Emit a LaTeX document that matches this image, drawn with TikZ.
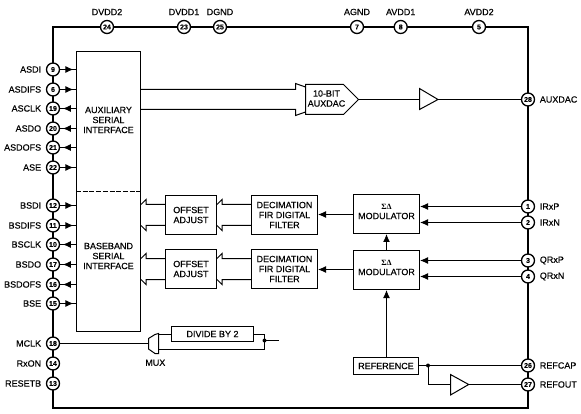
\documentclass[tikz,border=0pt]{standalone}
\usepackage{fontspec}
\setmainfont[FakeBold=0.25]{Liberation Sans}
\newfontfamily\greekfont{Liberation Serif}
\usetikzlibrary{arrows.meta,decorations.markings}
\tikzset{
  txt/.style={font=\fontsize{9}{10}\selectfont},
  pinbox/.style={circle,draw,fill=white,line width=1.3pt,inner sep=0pt,minimum size=13pt,
    font=\fontsize{7}{7}\selectfont\bfseries},
  every label/.style={txt,inner sep=0pt},
  label distance=4.5pt,
  blockbox/.style={draw,line width=1pt,inner sep=0pt,align=center,txt},
  wire/.style={line width=1pt},
  solid tip/.style={-{Latex[length=8pt,width=7pt]}},
  pinarrow/.style={wire,postaction={decorate},decoration={markings,
    mark=at position 0.83 with {\arrow{Latex[length=8pt,width=7pt]}}}},
}
\newcommand{\sigmadelta}{{\greekfont\bfseries\fontsize{8}{8}\selectfont ΣΔ}}
\begin{document}
\begin{tikzpicture}[x=1pt,y=-1pt]
  \useasboundingbox (0,0) rectangle (581,414);
  % outer package frame
  \draw[line width=2pt] (53,27) rectangle (528,408);
  % pins along the top
  \node[pinbox,label=above:DVDD2] (dvddb) at (107,27) {24};
  \node[pinbox,label=above:DVDD1] (dvdda) at (184,27) {23};
  \node[pinbox,label=above:DGND] (dgnd) at (220,27) {25};
  \node[pinbox,label=above:AGND] (agnd) at (357,27) {7};
  \node[pinbox,label=above:AVDD1] (avdda) at (400.7,27) {8};
  \node[pinbox,label=above:AVDD2] (avddb) at (479,27) {5};
  % pins on the left
  \node[pinbox,label=left:ASDI] (asdi) at (53,69.5) {9};
  \node[pinbox,label=left:ASDIFS] (asdifs) at (53,89.5) {6};
  \node[pinbox,label=left:ASCLK] (asclk) at (53,108.5) {19};
  \node[pinbox,label=left:ASDO] (asdo) at (53,128.5) {20};
  \node[pinbox,label=left:ASDOFS] (asdofs) at (53,147.5) {21};
  \node[pinbox,label=left:ASE] (ase) at (53,167.5) {22};
  \node[pinbox,label=left:BSDI] (bsdi) at (53,205.5) {12};
  \node[pinbox,label=left:BSDIFS] (bsdifs) at (53,225.5) {11};
  \node[pinbox,label=left:BSCLK] (bsclk) at (53,244.5) {10};
  \node[pinbox,label=left:BSDO] (bsdo) at (53,264.5) {17};
  \node[pinbox,label=left:BSDOFS] (bsdofs) at (53,284.5) {16};
  \node[pinbox,label=left:BSE] (bse) at (53,303.5) {15};
  \node[pinbox,label=left:MCLK] (mclk) at (53,343.5) {18};
  \node[pinbox,label=left:RxON] (rxon) at (53,363.5) {14};
  \node[pinbox,label=left:RESETB] (resetb) at (53,383.5) {13};
  % pins on the right
  \node[pinbox,label=right:AUXDAC] (auxdac) at (528,99.5) {28};
  \node[pinbox,label=right:IRxP] (irxp) at (528,206.5) {1};
  \node[pinbox,label=right:IRxN] (irxn) at (528,222.5) {2};
  \node[pinbox,label=right:QRxP] (qrxp) at (528,260.5) {3};
  \node[pinbox,label=right:QRxN] (qrxn) at (528,276.5) {4};
  \node[pinbox,label=right:REFCAP] (refcap) at (528,365.5) {26};
  \node[pinbox,label=right:REFOUT] (refout) at (528,384.5) {27};
  % serial interface block with the dashed split
  \node[blockbox,minimum width=64pt,minimum height=280pt] (serial) at (108.5,191.5) {};
  \draw[wire,dash pattern=on 5pt off 1.7pt] (serial.west) -- (serial.east);
  \node[txt,align=center] (auxtext) at (108.5,120) {AUXILIARY\\SERIAL\\INTERFACE};
  \node[txt,align=center] (basetext) at (108.5,256) {BASEBAND\\SERIAL\\INTERFACE};
  % processing blocks
  \node[blockbox,minimum width=51pt,minimum height=39pt] (offseta) at (191,215) {OFFSET\\ADJUST};
  \node[blockbox,minimum width=51pt,minimum height=39pt] (offsetb) at (191,269) {OFFSET\\ADJUST};
  \node[blockbox,minimum width=66pt,minimum height=39pt] (decima) at (284.5,215) {DECIMATION\\FIR DIGITAL\\FILTER};
  \node[blockbox,minimum width=66pt,minimum height=39pt] (decimb) at (284.5,269) {DECIMATION\\FIR DIGITAL\\FILTER};
  \node[blockbox,minimum width=66pt,minimum height=39pt] (moda) at (386.5,214) {};
  \node[blockbox,minimum width=66pt,minimum height=39pt] (modb) at (386.5,270) {};
  \node[txt,align=center] (modatext) at (386.5,211.5) {\sigmadelta\\MODULATOR};
  \node[txt,align=center] (modbtext) at (386.5,267.5) {\sigmadelta\\MODULATOR};
  \node[blockbox,minimum width=65pt,minimum height=17pt] (reference) at (386,366) {REFERENCE};
  \node[blockbox,minimum width=82pt,minimum height=15pt] (divide) at (212.5,334) {DIVIDE BY 2};
  \node[txt] (muxtext) at (155.3,362.7) {MUX};
  % the dac, the two buffers and the mux
  \draw[wire] (305.5,84.5) -- (343.5,84.5) -- (358.5,99.5) -- (343.5,114.5) -- (305.5,114.5) -- cycle;
  \node[txt,align=center] (dactext) at (326.5,98.5) {10-BIT\\AUXDAC};
  \coordinate (dactip) at (358.5,99.5);
  \draw[wire] (419.5,88.5) -- (438,99.5) -- (419.5,109.5) -- cycle;
  \coordinate (bufain) at (419.5,99.5);
  \coordinate (bufaout) at (438,99.5);
  \draw[wire] (450.5,374.5) -- (468.7,384.5) -- (450.5,395) -- cycle;
  \coordinate (bufbin) at (450.5,384.5);
  \coordinate (bufbout) at (468.7,384.5);
  \draw[wire] (158.5,333.5) -- (155,334.5) -- (148.5,338.5) -- (148.5,349) -- (155,353.5) -- (158.5,353.5) -- cycle;
  \coordinate (muxin) at (148.5,343.5);
  % pin stubs on the serial block
  \draw[pinarrow] (asdi) -- (asdi -| serial.west);
  \draw[pinarrow] (asdifs) -- (asdifs -| serial.west);
  \draw[pinarrow] (asclk -| serial.west) -- (asclk);
  \draw[pinarrow] (asdo -| serial.west) -- (asdo);
  \draw[pinarrow] (asdofs -| serial.west) -- (asdofs);
  \draw[pinarrow] (ase) -- (ase -| serial.west);
  \draw[pinarrow] (bsdi) -- (bsdi -| serial.west);
  \draw[pinarrow] (bsdifs) -- (bsdifs -| serial.west);
  \draw[pinarrow] (bsclk -| serial.west) -- (bsclk);
  \draw[pinarrow] (bsdo -| serial.west) -- (bsdo);
  \draw[pinarrow] (bsdofs -| serial.west) -- (bsdofs);
  \draw[pinarrow] (bse) -- (bse -| serial.west);
  % hollow bus into the dac
  \coordinate (busa) at (serial.east |- 0,89.5);
  \coordinate (busb) at (serial.east |- 0,109.5);
  \draw[wire] (busa) -- (295.5,89.5) -- ++(0,-6) -- (305.5,87);
  \draw[wire] (busb) -- (295.5,109.5) -- ++(0,6) -- (305.5,112);
  % hollow buses between the baseband blocks
  \coordinate (oau) at ([yshift=10.5pt]offseta.west);
  \coordinate (oal) at ([yshift=-10.5pt]offseta.west);
  \coordinate (obu) at ([yshift=10.5pt]offsetb.west);
  \coordinate (obl) at ([yshift=-10.5pt]offsetb.west);
  \coordinate (dau) at ([yshift=10.5pt]decima.west);
  \coordinate (dal) at ([yshift=-10.5pt]decima.west);
  \coordinate (dbu) at ([yshift=10.5pt]decimb.west);
  \coordinate (dbl) at ([yshift=-10.5pt]decimb.west);
  \draw[wire] (oau) -- ++(-19,0) -- ++(0,-5) -- (oau -| serial.east);
  \draw[wire] (oal) -- ++(-19,0) -- ++(0,5) -- (oal -| serial.east);
  \draw[wire] (obu) -- ++(-19,0) -- ++(0,-5) -- (obu -| serial.east);
  \draw[wire] (obl) -- ++(-19,0) -- ++(0,5) -- (obl -| serial.east);
  \draw[wire] (dau) -- ++(-29,0) -- ++(0,-5) -- (dau -| offseta.east);
  \draw[wire] (dal) -- ++(-29,0) -- ++(0,5) -- (dal -| offseta.east);
  \draw[wire] (dbu) -- ++(-29,0) -- ++(0,-5) -- (dbu -| offsetb.east);
  \draw[wire] (dbl) -- ++(-29,0) -- ++(0,5) -- (dbl -| offsetb.east);
  % modulators
  \coordinate (modaout) at ([yshift=-0.5pt]moda.west);
  \coordinate (modbout) at ([yshift=0.5pt]modb.west);
  \draw[wire,solid tip] (modaout) -- (modaout -| decima.east);
  \draw[wire,solid tip] (modbout) -- (modbout -| decimb.east);
  \draw[wire,solid tip] (modb.north) -- (moda.south);
  \draw[wire,solid tip] (reference.north -| modb.south) -- (modb.south);
  \draw[wire,solid tip] (irxp) -- (irxp -| moda.east);
  \draw[wire,solid tip] (irxn) -- (irxn -| moda.east);
  \draw[wire,solid tip] (qrxp) -- (qrxp -| modb.east);
  \draw[wire,solid tip] (qrxn) -- (qrxn -| modb.east);
  % aux dac output
  \draw[wire] (dactip) -- (bufain);
  \draw[wire] (bufaout) -- (auxdac);
  % reference outputs
  \coordinate (refdot) at (428,365.5);
  \draw[wire] (reference.east |- refcap) -- (refcap);
  \fill (refdot) circle (2pt);
  \draw[wire] (refdot) |- (bufbin);
  \draw[wire] (bufbout) -- (refout);
  % clock path through the mux
  \coordinate (clkdot) at (264.5,340.5);
  \coordinate (clkend) at (279,340.5);
  \coordinate (muxlow) at (158.5,349.5);
  \draw[wire] (mclk) -- (muxin);
  \draw[wire] (divide.west) -- (divide.west -| muxlow);
  \draw[wire] (divide.east) -| (clkdot) -- (clkdot |- muxlow) -- (muxlow);
  \fill (clkdot) circle (2pt);
  \draw[wire] (clkdot) -- (clkend);
\end{tikzpicture}
\end{document}
